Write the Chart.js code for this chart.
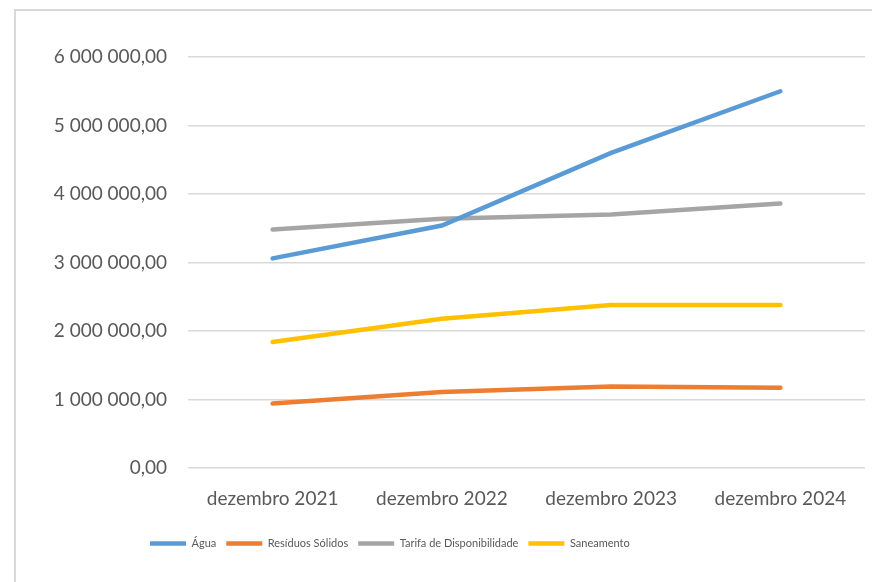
<!DOCTYPE html>
<html>
<head>
<meta charset="utf-8">
<script src="https://cdn.jsdelivr.net/npm/chart.js@4"></script>
<style>
    body { margin: 0; background: #fff; }
    #wrap { position: relative; width: 872px; height: 582px; }
    #frame { position: absolute; left: 14px; top: 9px; right: -5px; bottom: -5px; border: 2px solid #d9d9d9; }
    canvas { position: absolute; left: 0; top: 0; }
</style>
</head>
<body>
<div id="wrap">
    <div id="frame"></div>
    <canvas id="chart" width="872" height="582"></canvas>
</div>
<script>
// categories
const months = ["dezembro 2021", "dezembro 2022", "dezembro 2023", "dezembro 2024"];

// series values
const agua = [3060000, 3540000, 4600000, 5500000];
const residuos = [940000, 1110000, 1190000, 1170000];
const tarifa = [3480000, 3640000, 3700000, 3860000];
const saneamento = [1840000, 2180000, 2380000, 2380000];

// y axis ticks
const yMin = 0;
const yMax = 6000000;
const yStep = 1000000;

function fmt(v) {
    const parts = v.toFixed(2).split(".");
    return parts[0].replace(/\B(?=(\d{3})+(?!\d))/g, " ") + "," + parts[1];
}

function line(label, data, color) {
    return {
        label: label,
        data: data,
        borderColor: color,
        backgroundColor: color,
        borderWidth: 4.5,
        borderCapStyle: "round",
        pointRadius: 0,
        pointHoverRadius: 0,
        tension: 0,
        pointStyle: "line"
    };
}

// moves the legend to where the original has it
const legendPlace = {
    id: "legendPlace",
    afterLayout(chart) {
        const lg = chart.legend;
        const h = lg.bottom - lg.top;
        lg.left = 140;
        lg.right = 872;
        lg.top = 528;
        lg.bottom = lg.top + h;
    }
};

const ctx = document.getElementById("chart").getContext("2d");
new Chart(ctx, {
    type: "line",
    data: {
        labels: months,
        datasets: [
            line("Água", agua, "#5B9BD5"),
            line("Resíduos Sólidos", residuos, "#ED7D31"),
            line("Tarifa de Disponibilidade", tarifa, "#A5A5A5"),
            line("Saneamento", saneamento, "#FFC000")
        ]
    },
    options: {
        responsive: false,
        animation: false,
        layout: { padding: { top: 57, right: 7, bottom: 33, left: 0 } },
        plugins: {
            tooltip: { enabled: false },
            legend: {
                position: "bottom",
                align: "start",
                labels: {
                    usePointStyle: true,
                    pointStyleWidth: 36,
                    color: "#595959",
                    font: { family: "Lato", size: 11 },
                    padding: 10
                }
            }
        },
        scales: {
            x: {
                offset: true,
                grid: { display: false, drawTicks: false },
                border: { display: false },
                ticks: { color: "#595959", font: { family: "Lato", size: 19 }, padding: 19, maxRotation: 0 },
                afterFit: s => { s.height = 50; }
            },
            y: {
                min: yMin,
                max: yMax,
                grid: { color: "#d9d9d9", lineWidth: 1.5, drawTicks: false },
                border: { display: false },
                ticks: {
                    stepSize: yStep,
                    color: "#595959",
                    font: { family: "Lato", size: 19 },
                    padding: 21,
                    callback: v => fmt(v)
                },
                afterFit: s => { s.width = 188; }
            }
        }
    },
    plugins: [legendPlace]
});
</script>
</body>
</html>
